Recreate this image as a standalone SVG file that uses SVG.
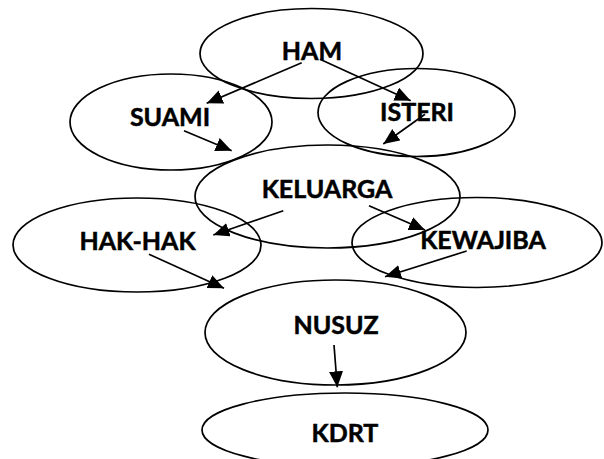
<svg xmlns="http://www.w3.org/2000/svg" width="604" height="459" viewBox="0 0 604 459">
  <style>
    .node ellipse { fill: none; stroke: #000; stroke-width: 1.7; }
    .node text { font-family: Lato, "Open Sans", "Liberation Sans", sans-serif; font-weight: bold; font-size: 25px; fill: #000; stroke: #000; stroke-width: 0.5; text-anchor: middle; }
    .edges line { stroke: #000; stroke-width: 1.7; marker-end: url(#head); }
  </style>
  <defs>
    <marker id="head" markerUnits="userSpaceOnUse" markerWidth="17" markerHeight="15" refX="16" refY="7" orient="auto">
      <path d="M0,0 L16,7 L0,14 z" fill="#000"/>
    </marker>
  </defs>
  <rect width="604" height="459" fill="#fff"/>

  <g id="ham" class="node">
    <ellipse cx="311.5" cy="53.5" rx="111.5" ry="45"/>
    <text x="312" y="60">HAM</text>
  </g>
  <g id="suami" class="node">
    <ellipse cx="171" cy="122" rx="101" ry="48"/>
    <text x="170" y="126">SUAMI</text>
  </g>
  <g id="isteri" class="node">
    <ellipse cx="416.5" cy="112.5" rx="98.5" ry="44"/>
    <text x="417" y="121">ISTERI</text>
  </g>
  <g id="keluarga" class="node">
    <ellipse cx="327.5" cy="196.5" rx="132.5" ry="51.5"/>
    <text x="327" y="198">KELUARGA</text>
  </g>
  <g id="hak-hak" class="node">
    <ellipse cx="137" cy="245" rx="124" ry="47"/>
    <text x="137.5" y="250">HAK-HAK</text>
  </g>
  <g id="kewajiba" class="node">
    <ellipse cx="477" cy="242.5" rx="125" ry="45"/>
    <text x="483" y="249">KEWAJIBA</text>
  </g>
  <g id="nusuz" class="node">
    <ellipse cx="335.5" cy="332.5" rx="130.5" ry="52.5"/>
    <text x="336" y="334">NUSUZ</text>
  </g>
  <g id="kdrt" class="node">
    <ellipse cx="345" cy="430" rx="143" ry="37"/>
    <text x="345" y="442">KDRT</text>
  </g>

  <g id="connectors" class="edges">
    <line x1="301.7" y1="62.7" x2="206.7" y2="103.3"/>
    <line x1="320" y1="59.3" x2="410.7" y2="100.7"/>
    <line x1="425" y1="114.3" x2="383.3" y2="144"/>
    <line x1="184" y1="130.7" x2="231.7" y2="150.7"/>
    <line x1="283.3" y1="210.7" x2="213.3" y2="235"/>
    <line x1="369" y1="205.7" x2="425" y2="230"/>
    <line x1="149" y1="254.3" x2="224" y2="288.3"/>
    <line x1="466.7" y1="251" x2="385" y2="276.7"/>
    <line x1="334" y1="345" x2="337.3" y2="387.3"/>
  </g>
</svg>
